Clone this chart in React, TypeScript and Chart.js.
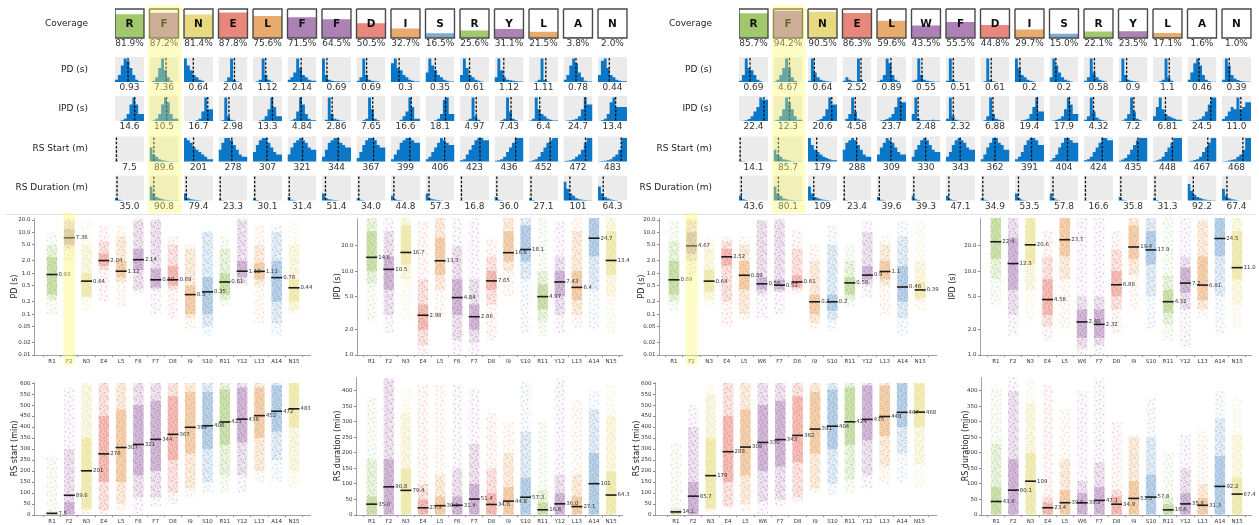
import React, { useEffect, useRef } from 'react';
import { Chart, registerables } from 'chart.js';

Chart.register(...registerables);

const FONT = '"DejaVu Sans", "Liberation Sans", sans-serif';
Chart.defaults.font.family = FONT;

// ---------- beacons ----------
const lettersA = ['R', 'F', 'N', 'E', 'L', 'F', 'F', 'D', 'I', 'S', 'R', 'Y', 'L', 'A', 'N'];
const lettersB = ['R', 'F', 'N', 'E', 'L', 'W', 'F', 'D', 'I', 'S', 'R', 'Y', 'L', 'A', 'N'];
const namesA = lettersA.map((l, i) => l + (i + 1));
const namesB = lettersB.map((l, i) => l + (i + 1));

const PALETTE: Record<string, string> = {
  R: '#a2c86e', F: '#ad80b6', W: '#ad80b6', Y: '#ad80b6',
  N: '#e6db80', E: '#e8877c', D: '#e8877c', L: '#e9aa6e', I: '#e9aa6e',
  S: '#80aad2', A: '#80aad2',
};

// ---------- coverage (%) ----------
const coverageA = [81.9, 87.2, 81.4, 87.8, 75.6, 71.5, 64.5, 50.5, 32.7, 16.5, 25.6, 31.1, 21.5, 3.8, 2.0];
const coverageB = [85.7, 94.2, 90.5, 86.3, 59.6, 43.5, 55.5, 44.8, 29.7, 15.0, 22.1, 23.5, 17.1, 1.6, 1.0];

// ---------- medians ----------
const pdLabA = ['0.93', '7.36', '0.64', '2.04', '1.12', '2.14', '0.69', '0.69', '0.3', '0.35', '0.61', '1.12', '1.11', '0.78', '0.44'];
const ipdLabA = ['14.6', '10.5', '16.7', '2.98', '13.3', '4.84', '2.86', '7.65', '16.6', '18.1', '4.97', '7.43', '6.4', '24.7', '13.4'];
const startLabA = ['7.5', '89.6', '201', '278', '307', '321', '344', '367', '399', '406', '423', '436', '452', '472', '483'];
const durLabA = ['35.0', '90.8', '79.4', '23.3', '30.1', '31.4', '51.4', '34.0', '44.8', '57.3', '16.8', '36.0', '27.1', '101', '64.3'];

const pdLabB = ['0.69', '4.67', '0.64', '2.52', '0.89', '0.55', '0.51', '0.61', '0.2', '0.2', '0.58', '0.9', '1.1', '0.46', '0.39'];
const ipdLabB = ['22.4', '12.3', '20.6', '4.58', '23.7', '2.48', '2.32', '6.88', '19.4', '17.9', '4.32', '7.2', '6.81', '24.5', '11.0'];
const startLabB = ['14.1', '85.7', '179', '288', '309', '330', '343', '362', '391', '404', '424', '435', '448', '467', '468'];
const durLabB = ['43.6', '80.1', '109', '23.4', '39.6', '39.3', '47.1', '34.9', '53.5', '57.8', '16.6', '35.8', '31.3', '92.2', '67.4'];

// ---------- small histograms (relative bin heights, 10 bins per cell) ----------
const pdHistA = [
  [0.3, 1, 3, 7, 10, 9, 6, 3, 1, 0.3], [0, 0, 0.5, 2, 6, 10, 5, 2, 0.5, 0], [2, 10, 7, 5, 3, 2, 1, 0.5, 0, 0],
  [0, 0, 0, 0.3, 2, 10, 1, 0.2, 0, 0], [0, 0, 0.3, 1, 10, 3, 1, 0.3, 0, 0], [0.3, 1, 2, 4, 10, 6, 3, 2, 1, 0.5],
  [1, 10, 3, 1, 0.5, 0.3, 0.3, 0.2, 0.2, 0.1], [0, 0.5, 2, 10, 3, 1, 0.5, 0.3, 0.2, 0], [2, 8, 10, 6, 5, 3, 2, 1, 0.5, 0.2],
  [1, 4, 10, 7, 5, 3, 2, 1, 0.5, 0.2], [0.5, 3, 10, 6, 3, 2, 1, 0.5, 0.2, 0], [0.5, 2, 10, 5, 2, 1, 0.7, 0.5, 0.3, 0.2],
  [0, 0, 0, 0.2, 1, 10, 1, 0.2, 0, 0], [0.3, 1, 3, 7, 10, 8, 4, 2, 0.5, 0.2], [0.5, 3, 9, 10, 6, 3, 2, 1, 0.5, 0.3],
];
const pdMarkA = [0.45, 0.57, 0.32, 0.55, 0.44, 0.47, 0.17, 0.35, 0.28, 0.34, 0.33, 0.32, 0.58, 0.43, 0.39];

const ipdHistA = [
  [0, 0, 0, 0.3, 1, 3, 7, 10, 7, 3], [0, 0, 0.2, 1, 3, 7, 10, 8, 3, 1], [0, 0, 0, 0, 0, 0.3, 1, 4, 10, 5],
  [0, 0, 0.3, 10, 2, 0.5, 0.2, 0, 0, 0], [0, 0, 0, 0.2, 0.5, 2, 5, 10, 6, 2], [0, 0, 0.2, 1, 4, 10, 7, 3, 1, 0.3],
  [0, 0, 0.5, 10, 3, 1, 0.5, 0.2, 0.1, 0], [0, 0, 0, 0.3, 1, 10, 5, 1, 0.3, 0], [0, 0, 0, 0, 0.5, 2, 4, 10, 6, 1],
  [0, 0, 0, 0, 0.3, 1, 3, 9, 10, 3], [0, 0, 0, 0.2, 1, 10, 2, 0.5, 0, 0], [0, 0, 0, 0.3, 1, 10, 4, 1, 0.3, 0],
  [0, 0.2, 1, 10, 5, 3, 2, 1, 0.5, 0.2], [0, 0, 0.2, 0.3, 0.5, 1, 2, 5, 10, 7], [0, 0, 0.3, 1, 3, 8, 10, 6, 6, 6],
];
const ipdMarkA = [0.68, 0.59, 0.82, 0.36, 0.67, 0.47, 0.35, 0.56, 0.7, 0.69, 0.56, 0.57, 0.37, 0.75, 0.61];

const startHistA = [
  [10, 0.3, 0, 0, 0, 0, 0, 0, 0, 0], [10, 6, 3, 2, 1, 0.5, 0.3, 0.2, 0.1, 0.1], [7, 10, 9, 8, 6, 5, 4, 3, 2, 1],
  [2, 5, 8, 10, 10, 9, 7, 5, 3, 2], [1, 4, 7, 9, 10, 10, 8, 6, 4, 3], [1, 3, 6, 8, 9, 10, 9, 8, 6, 5],
  [0.5, 2, 5, 8, 9, 10, 10, 8, 7, 6], [0.5, 1.5, 4, 7, 9, 10, 10, 9, 7, 6], [0.3, 1, 3, 5, 8, 9, 10, 10, 9, 8],
  [0.2, 1, 2, 4, 6, 8, 10, 9, 8, 7], [0.2, 0.5, 1, 3, 5, 7, 9, 10, 10, 9], [0, 0.3, 0.5, 1, 2, 4, 6, 8, 10, 10],
  [0, 0.2, 0.5, 1, 2, 4, 6, 8, 9, 10], [0, 0.2, 0.3, 0.5, 1, 2, 3, 5, 8, 10], [0, 0.1, 0.2, 0.3, 0.5, 1, 2, 3, 5, 10],
];
const startMarkA = [0.05, 0.15, 0.33, 0.46, 0.48, 0.52, 0.56, 0.59, 0.65, 0.66, 0.69, 0.73, 0.73, 0.76, 0.8];

const durHistA = [
  [10, 1, 0.3, 0.1, 0, 0, 0, 0, 0, 0], [10, 6, 3, 1.5, 1, 0.5, 0.3, 0.2, 0.1, 0.1], [10, 3, 1, 0.5, 0.3, 0.2, 0.1, 0, 0, 0],
  [10, 0.5, 0.1, 0, 0, 0, 0, 0, 0, 0], [10, 1, 0.2, 0, 0, 0, 0, 0, 0, 0], [10, 1.5, 0.3, 0.1, 0, 0, 0, 0, 0, 0],
  [10, 3, 1, 0.5, 0.3, 0.2, 0.1, 0, 0, 0], [10, 1, 0.3, 0.1, 0, 0, 0, 0, 0, 0], [10, 2, 0.5, 0.2, 0.1, 0, 0, 0, 0, 0],
  [10, 3, 1, 0.5, 0.3, 0.2, 0.1, 0, 0, 0], [10, 0.2, 0, 0, 0, 0, 0, 0, 0, 0], [10, 1.5, 0.3, 0.1, 0, 0, 0, 0, 0, 0],
  [10, 1, 0.2, 0, 0, 0, 0, 0, 0, 0], [10, 8, 5, 3, 2, 1, 0.5, 0.3, 0.2, 0.1], [10, 6, 3, 1.5, 0.8, 0.4, 0.2, 0.1, 0, 0],
];
const durMarkA = [0.07, 0.15, 0.08, 0.06, 0.06, 0.06, 0.12, 0.08, 0.1, 0.12, 0.05, 0.08, 0.07, 0.22, 0.18];

const pdHistB = [
  [0, 0.5, 3, 10, 6, 5, 3, 1, 0.3, 0], [0, 0.2, 1, 3, 6, 10, 6, 2, 0.5, 0], [0.2, 0.5, 10, 4, 2, 1, 0.5, 0.3, 0.2, 0],
  [0, 0.5, 2, 1, 0.5, 0.3, 10, 1, 0, 0], [0, 0.3, 1, 3, 10, 8, 3, 1, 0.3, 0], [0, 0.5, 1, 10, 3, 1, 0.5, 0.3, 0.2, 0.1],
  [0.2, 0.5, 10, 1, 0.3, 0.2, 0.1, 0, 0, 0], [0, 0, 0.3, 10, 1, 0.3, 0.1, 0, 0, 0], [3, 10, 6, 3, 2, 1, 0.5, 0.2, 0, 0],
  [1, 2, 10, 7, 4, 2, 1, 0.5, 0.2, 0], [0.3, 0.5, 2, 10, 4, 2, 1, 0.5, 0.2, 0], [0, 0.3, 10, 3, 1, 0.5, 0.3, 0.2, 0, 0],
  [0, 0, 0, 0.3, 1, 10, 2, 0.5, 0, 0], [0.3, 1, 4, 8, 10, 7, 3, 1, 0.3, 0.1], [0.5, 1, 10, 7, 3, 1.5, 0.8, 0.4, 0.2, 0.1],
];
const pdMarkB = [0.38, 0.55, 0.22, 0.64, 0.48, 0.36, 0.25, 0.37, 0.17, 0.22, 0.36, 0.28, 0.56, 0.4, 0.25];

const ipdHistB = [
  [0, 0, 0.1, 0.3, 0.8, 2, 4, 6, 10, 9], [0, 0.2, 0.5, 2, 5, 10, 8, 5, 2, 0.5], [0, 0, 0, 0, 0.3, 0.8, 2, 5, 10, 7],
  [0, 0, 1, 3, 10, 4, 1, 0.5, 0.2, 0], [0, 0, 0.2, 0.4, 0.8, 1.5, 3, 6, 10, 8], [0.5, 3, 10, 1, 0.3, 0.3, 0.3, 0.3, 0.5, 0.3],
  [0.3, 1, 10, 2, 0.5, 0.2, 0.1, 0.1, 0.1, 0], [0, 0, 0.3, 2, 10, 3, 1, 0.5, 0.2, 0], [0, 0, 0, 0.3, 0.5, 1, 3, 6, 10, 4],
  [0, 0, 0.2, 0.5, 1, 2, 5, 10, 7, 3], [0, 0.5, 2, 10, 4, 1.5, 0.6, 0.3, 0.1, 0], [0, 0, 0.2, 1, 3, 10, 4, 1, 0.3, 0],
  [0.5, 2, 6, 10, 5, 3, 2, 1.5, 1, 0.5], [0, 0, 0.2, 0.3, 0.5, 1, 2, 4, 7, 10], [0.3, 0.8, 2, 4, 6, 5, 10, 5, 6, 8],
];
const ipdMarkB = [0.86, 0.55, 0.82, 0.44, 0.82, 0.23, 0.25, 0.43, 0.77, 0.69, 0.33, 0.53, 0.43, 0.8, 0.65];

const startHistB = [
  [10, 0.3, 0.1, 0, 0, 0, 0, 0, 0, 0], [10, 5, 3, 2, 1, 0.7, 0.4, 0.2, 0.1, 0.1], [9, 10, 7, 5, 4, 3, 2, 1.5, 1, 0.5],
  [2, 5, 8, 9, 10, 9, 7, 5, 3, 2], [1, 3, 6, 8, 10, 9, 8, 6, 4, 3], [0.5, 2, 5, 7, 9, 10, 9, 7, 5, 4],
  [0.5, 2, 4, 7, 9, 10, 9, 8, 6, 5], [0.3, 1, 3, 6, 8, 10, 10, 8, 7, 5], [0.2, 1, 2, 4, 7, 9, 10, 10, 9, 7],
  [0.2, 0.5, 1.5, 3, 6, 8, 10, 10, 9, 8], [0.1, 0.5, 1, 2, 4, 6, 8, 10, 10, 9], [0.1, 0.3, 0.8, 1.5, 3, 5, 7, 9, 10, 10],
  [0.1, 0.2, 0.5, 1, 2, 4, 6, 8, 10, 10], [0, 0.1, 0.3, 0.6, 1, 2, 4, 6, 8, 10], [0, 0.1, 0.2, 0.4, 0.7, 1, 2, 3, 5, 10],
];
const startMarkB = [0.04, 0.17, 0.3, 0.49, 0.48, 0.49, 0.49, 0.5, 0.57, 0.62, 0.63, 0.67, 0.67, 0.7, 0.72];

const durHistB = [
  [10, 2, 0.5, 0.2, 0, 0, 0, 0, 0, 0], [10, 6, 3, 2, 1, 0.5, 0.3, 0.2, 0.1, 0.1], [10, 6, 3, 1.5, 1, 0.5, 0.3, 0.2, 0.1, 0],
  [10, 0.5, 0.1, 0, 0, 0, 0, 0, 0, 0], [10, 1.5, 0.3, 0.1, 0, 0, 0, 0, 0, 0], [10, 2, 0.5, 0.2, 0, 0, 0, 0, 0, 0],
  [10, 2, 0.5, 0.2, 0.1, 0, 0, 0, 0, 0], [10, 1, 0.3, 0.1, 0, 0, 0, 0, 0, 0], [10, 3, 1, 0.3, 0.1, 0, 0, 0, 0, 0],
  [10, 3, 1, 0.3, 0.1, 0, 0, 0, 0, 0], [10, 0.2, 0, 0, 0, 0, 0, 0, 0, 0], [10, 1.5, 0.3, 0.1, 0, 0, 0, 0, 0, 0],
  [10, 1, 0.2, 0, 0, 0, 0, 0, 0, 0], [10, 7, 4, 2.5, 1.5, 1, 0.5, 0.3, 0.2, 0.1], [10, 5, 2, 1, 0.5, 0.3, 0.1, 0, 0, 0],
];
const durMarkB = [0.08, 0.17, 0.2, 0.06, 0.08, 0.08, 0.1, 0.08, 0.12, 0.12, 0.05, 0.08, 0.07, 0.2, 0.17];

// ---------- strip extents: [low, high] for sparse range, dense band and core ----------
const pdRangeA = [[0.1, 10], [2, 22], [0.12, 20], [0.2, 15], [0.15, 15], [0.3, 22], [0.1, 22], [0.08, 8], [0.04, 5], [0.03, 12], [0.15, 8], [0.5, 22], [0.06, 15], [0.03, 15], [0.1, 20]];
const pdDenseA = [[0.22, 5], [4, 20], [0.25, 5], [1.2, 6], [0.6, 8], [0.4, 20], [0.4, 20], [0.4, 5], [0.08, 4], [0.05, 10], [0.22, 4], [0.55, 20], [0.5, 5], [0.06, 10], [0.12, 5]];
const pdCoreA = [[0.3, 2.5], [5, 12], [0.27, 1], [1.5, 3], [0.8, 2], [1.2, 4], [0.45, 1.3], [0.5, 1.5], [0.1, 0.5], [0.1, 0.8], [0.3, 1], [0.8, 2], [0.7, 1.8], [0.2, 2], [0.2, 0.7]];

const ipdRangeA = [[2.5, 43], [1.8, 43], [2.5, 43], [1, 40], [3, 43], [1, 43], [1, 43], [1.5, 25], [5, 43], [1.8, 43], [1.7, 43], [1.8, 40], [2, 43], [2, 43], [1.8, 43]];
const ipdDenseA = [[7, 43], [3, 30], [8, 43], [1.3, 8], [6, 43], [1.5, 20], [1.4, 8], [4, 15], [10, 43], [8, 43], [2.5, 10], [3, 15], [3, 30], [6, 43], [5, 43]];
const ipdCoreA = [[10, 30], [6, 15], [12, 35], [2, 4], [9, 25], [3, 8], [2, 4], [6, 10], [13, 30], [13, 35], [3.5, 7], [5, 10], [4.5, 10], [15, 43], [9, 30]];

const startRangeA = [[0, 270], [0, 580], [0, 590], [0, 600], [20, 600], [0, 600], [40, 600], [50, 600], [80, 600], [100, 600], [100, 600], [100, 600], [150, 600], [150, 600], [120, 600]];
const startDenseA = [[0, 20], [0, 300], [10, 600], [20, 600], [50, 600], [80, 600], [80, 600], [100, 600], [120, 600], [150, 600], [180, 600], [180, 600], [200, 600], [250, 600], [200, 600]];
const startCoreA = [[0, 10], [0, 60], [30, 350], [150, 450], [150, 480], [180, 500], [200, 520], [250, 540], [280, 560], [300, 560], [320, 570], [330, 580], [350, 580], [380, 590], [400, 600]];

const durRangeA = [[0, 380], [0, 440], [0, 410], [0, 420], [0, 420], [0, 420], [0, 410], [0, 330], [0, 300], [0, 430], [0, 300], [0, 440], [0, 370], [0, 400], [0, 420]];
const durDenseA = [[0, 180], [0, 440], [0, 330], [0, 100], [0, 130], [0, 150], [0, 230], [0, 150], [0, 200], [0, 270], [0, 80], [0, 130], [0, 130], [0, 340], [0, 320]];
const durCoreA = [[0, 60], [0, 180], [0, 150], [0, 50], [0, 60], [0, 60], [0, 100], [0, 70], [0, 90], [0, 120], [0, 40], [0, 70], [0, 60], [0, 200], [0, 140]];

const pdRangeB = [[0.12, 20], [0.9, 22], [0.15, 8], [0.05, 8], [0.07, 8], [0.08, 20], [0.1, 22], [0.3, 12], [0.04, 5], [0.04, 15], [0.15, 5], [0.25, 20], [0.09, 8], [0.03, 20], [0.12, 20]];
const pdDenseB = [[0.2, 6], [2, 20], [0.22, 4], [0.2, 6], [0.1, 5], [0.3, 20], [0.35, 20], [0.4, 4], [0.06, 2], [0.07, 5], [0.22, 2], [0.5, 10], [0.5, 5], [0.08, 8], [0.2, 2]];
const pdCoreB = [[0.3, 2], [3, 10], [0.35, 1.2], [1.5, 4], [0.4, 2], [0.4, 0.8], [0.4, 0.7], [0.45, 0.9], [0.1, 0.3], [0.12, 0.3], [0.3, 0.8], [0.7, 1.5], [0.7, 2], [0.2, 1.5], [0.25, 0.6]];

const ipdRangeB = [[4, 43], [1.7, 43], [2.5, 43], [1.5, 30], [2, 43], [1, 43], [1, 43], [1.8, 30], [3.5, 43], [2, 43], [1.5, 43], [1.2, 43], [2.8, 43], [1.8, 43], [2, 43]];
const ipdDenseB = [[8, 43], [3, 43], [6, 43], [2.2, 15], [8, 43], [1.2, 5], [1.3, 5], [3.5, 18], [9, 43], [5, 43], [2.3, 9], [3.5, 15], [3.5, 40], [5, 43], [4, 43]];
const ipdCoreB = [[14, 43], [6, 25], [12, 43], [3, 8], [15, 43], [1.6, 3.5], [1.6, 3.5], [5, 10], [14, 35], [12, 30], [3.2, 6], [5.5, 11], [4.5, 15], [15, 43], [8, 30]];

const startRangeB = [[0, 330], [0, 500], [10, 590], [30, 600], [20, 600], [0, 600], [40, 600], [60, 600], [100, 600], [90, 600], [100, 600], [120, 600], [140, 600], [150, 600], [120, 600]];
const startDenseB = [[0, 30], [0, 400], [20, 550], [40, 600], [50, 600], [60, 600], [70, 600], [80, 600], [120, 600], [140, 600], [160, 600], [180, 600], [220, 600], [280, 600], [230, 600]];
const startCoreB = [[0, 20], [0, 150], [30, 350], [150, 450], [180, 480], [200, 500], [220, 520], [240, 540], [280, 560], [300, 570], [320, 580], [340, 590], [360, 590], [400, 600], [400, 600]];

const durRangeB = [[0, 410], [0, 445], [0, 440], [0, 420], [0, 340], [0, 400], [0, 440], [0, 300], [0, 260], [0, 380], [0, 200], [0, 260], [0, 270], [0, 400], [0, 380]];
const durDenseB = [[0, 230], [0, 400], [0, 360], [0, 60], [0, 180], [0, 110], [0, 170], [0, 80], [0, 250], [0, 250], [0, 60], [0, 150], [0, 100], [0, 310], [0, 260]];
const durCoreB = [[0, 90], [0, 180], [0, 200], [0, 40], [0, 80], [0, 70], [0, 90], [0, 60], [0, 110], [0, 130], [0, 35], [0, 70], [0, 55], [0, 190], [0, 120]];

// ---------- axis ticks ----------
const PD_TICKS = [0.01, 0.02, 0.05, 0.1, 0.2, 0.5, 1, 2, 5, 10, 20];
const IPD_TICKS = [1, 2, 5, 10, 20];
const START_TICKS = [0, 50, 100, 150, 200, 250, 300, 350, 400, 450, 500, 550, 600];
const DUR_TICKS = [0, 50, 100, 150, 200, 250, 300, 350, 400];

// ---------- styling ----------
const HIST_BLUE = '#0b77c9';
const CELL_GREY = '#ebebeb';
const HIGHLIGHT = 'rgba(255, 250, 105, 0.38)';
const ROW_LABELS = ['Coverage', 'PD (s)', 'IPD (s)', 'RS Start (m)', 'RS Duration (m)'];

// grid layout (vertical units = pixels from the top of the grid canvas)
const CELL = 0.84;
const BOX_TOP = 9;
const BOX_BOTTOM = 38;
const COV_TEXT_Y = 43.3;
const ROW_BASES = [82, 121, 161.5, 200.5];
const HIST_H = 25;
const ROW_LABEL_Y = [24, 69.5, 109, 148.5, 188];

// speckle texture tile used to give the strip bands a scattered-dot look
const SPECKLE_TILE = 9;
const SPECKLE_DOTS = [
  [1.2, 1.0], [5.6, 2.4], [2.4, 5.8], [7.3, 7.1], [3.9, 3.3], [8.1, 0.6], [0.3, 7.9], [6.0, 5.2], [4.6, 8.3], [2.0, 3.9], [7.8, 4.0], [5.0, 0.2],
];

function rgba(hex: string, a: number) {
  const n = parseInt(hex.slice(1), 16);
  return `rgba(${n >> 16}, ${(n >> 8) & 255}, ${n & 255}, ${a})`;
}

function speckle(hex: string, baseAlpha: number, dots: number, dotAlpha: number): CanvasPattern | string {
  const c = document.createElement('canvas');
  c.width = SPECKLE_TILE;
  c.height = SPECKLE_TILE;
  const g = c.getContext('2d');
  if (!g) return rgba(hex, baseAlpha);
  g.fillStyle = rgba(hex, baseAlpha);
  g.fillRect(0, 0, SPECKLE_TILE, SPECKLE_TILE);
  g.fillStyle = rgba(hex, dotAlpha);
  SPECKLE_DOTS.slice(0, dots).forEach(([dx, dy]) => {
    g.beginPath();
    g.arc(dx, dy, 0.75, 0, Math.PI * 2);
    g.fill();
  });
  const pat = g.createPattern(c, 'repeat');
  return pat || rgba(hex, baseAlpha);
}

interface GridRow { hist: number[][]; mark: number[]; text: string[] }
interface GridPanel { letters: string[]; coverage: number[]; rows: GridRow[]; highlight: number; width: number }

const panelA: GridPanel = {
  letters: lettersA, coverage: coverageA, highlight: 1, width: 634,
  rows: [
    { hist: pdHistA, mark: pdMarkA, text: pdLabA },
    { hist: ipdHistA, mark: ipdMarkA, text: ipdLabA },
    { hist: startHistA, mark: startMarkA, text: startLabA },
    { hist: durHistA, mark: durMarkA, text: durLabA },
  ],
};
const panelB: GridPanel = {
  letters: lettersB, coverage: coverageB, highlight: 1, width: 634,
  rows: [
    { hist: pdHistB, mark: pdMarkB, text: pdLabB },
    { hist: ipdHistB, mark: ipdMarkB, text: ipdLabB },
    { hist: startHistB, mark: startMarkB, text: startLabB },
    { hist: durHistB, mark: durMarkB, text: durLabB },
  ],
};

const NONE = 'rgba(0,0,0,0)';

function gridConfig(p: GridPanel): any {
  const ds: any[] = [];
  p.letters.forEach((ltr, i) => {
    const level = BOX_BOTTOM - (BOX_BOTTOM - BOX_TOP) * p.coverage[i] / 100;
    ds.push({
      data: [{ x: i, y: level }, { x: i + CELL, y: level }],
      fill: { value: BOX_BOTTOM }, backgroundColor: PALETTE[ltr], borderColor: NONE, borderWidth: 0, order: 6,
    });
    ds.push({
      data: [{ x: i, y: BOX_TOP }, { x: i + CELL, y: BOX_TOP }, { x: i + CELL, y: BOX_BOTTOM }, { x: i, y: BOX_BOTTOM }, { x: i, y: BOX_TOP }],
      fill: false, borderColor: '#4a4a4a', borderWidth: 1.4, order: 5,
    });
  });
  p.rows.forEach((row, r) => {
    const base = ROW_BASES[r];
    const top = base - HIST_H;
    row.hist.forEach((bins, i) => {
      ds.push({
        data: [{ x: i, y: top }, { x: i + CELL, y: top }],
        fill: { value: base }, backgroundColor: CELL_GREY, borderColor: NONE, borderWidth: 0, order: 9,
      });
      const w = CELL / bins.length;
      const pts = bins.map((h, k) => ({ x: i + k * w, y: base - (h / 10) * (HIST_H - 1.5) }));
      pts.push({ x: i + CELL, y: pts[pts.length - 1].y });
      ds.push({
        data: pts, stepped: 'after', fill: { value: base },
        backgroundColor: HIST_BLUE, borderColor: NONE, borderWidth: 0, order: 8,
      });
      const mx = i + CELL * row.mark[i];
      ds.push({
        data: [{ x: mx, y: top + 1 }, { x: mx, y: base }],
        fill: false, borderColor: '#111', borderWidth: 1.3, borderDash: [2.6, 1.6], order: 4,
      });
    });
  });

  const labels = {
    id: 'gridLabels',
    afterDatasetsDraw(chart: any) {
      const { ctx, chartArea } = chart;
      const x = chart.scales.x;
      const y = chart.scales.y;
      ctx.save();
      ctx.textBaseline = 'middle';
      ctx.fillStyle = '#222';
      ctx.font = `9px ${FONT}`;
      ctx.textAlign = 'right';
      ROW_LABELS.forEach((t, r) => ctx.fillText(t, chartArea.left - 27, y.getPixelForValue(ROW_LABEL_Y[r])));
      ctx.textAlign = 'center';
      ctx.font = `bold 10.5px ${FONT}`;
      ctx.fillStyle = '#111';
      p.letters.forEach((l, i) =>
        ctx.fillText(l, x.getPixelForValue(i + CELL / 2), y.getPixelForValue((BOX_TOP + BOX_BOTTOM) / 2 + 0.5)));
      ctx.font = `9px ${FONT}`;
      ctx.fillStyle = '#333';
      p.coverage.forEach((c, i) =>
        ctx.fillText(c.toFixed(1) + '%', x.getPixelForValue(i + CELL / 2), y.getPixelForValue(COV_TEXT_Y)));
      p.rows.forEach((row, r) =>
        row.text.forEach((t, i) =>
          ctx.fillText(t, x.getPixelForValue(i + CELL / 2), y.getPixelForValue(ROW_BASES[r] + 5.8))));
      // highlighted beacon column
      const h = p.highlight;
      const x0 = x.getPixelForValue(h - 0.05);
      const x1 = x.getPixelForValue(h + CELL + 0.09);
      const y0 = y.getPixelForValue(5);
      const y1 = y.getPixelForValue(213);
      ctx.fillStyle = HIGHLIGHT;
      ctx.fillRect(x0, y0, x1 - x0, y1 - y0);
      ctx.restore();
    },
  };

  return {
    type: 'line',
    data: { datasets: ds },
    options: {
      responsive: false, animation: false, devicePixelRatio: 1, events: [],
      layout: { padding: { left: 115, right: p.width - 115 - 15 * 34.5, top: 0, bottom: 0 } },
      elements: { point: { radius: 0, hitRadius: 0, hoverRadius: 0 }, line: { tension: 0 } },
      plugins: { legend: { display: false }, tooltip: { enabled: false } },
      scales: {
        x: { type: 'linear', min: 0, max: 15, display: false },
        y: { type: 'linear', min: 0, max: 214, reverse: true, display: false },
      },
    },
    plugins: [labels],
  };
}

// ---------- strip plots ----------
interface Strip {
  letters: string[]; names: string[]; labels: string[];
  range: number[][]; dense: number[][]; core: number[][];
  log: boolean; min: number; max: number; ticks: number[]; fmt: (v: number) => string;
  title: string; canvas: number[]; area: number[]; xr: number[]; titleX: number; highlight?: number;
}

const fmtPD = (v: number) => (v >= 1 ? v.toFixed(1) : String(v));
const fmtIPD = (v: number) => v.toFixed(1);
const fmtInt = (v: number) => String(v);

function stripConfig(s: Strip): any {
  const [cx, cy, cw, ch] = s.canvas;
  const [al, at, ar, ab] = s.area;
  const colors = s.letters.map((l) => PALETTE[l]);
  const medians = s.labels.map(Number);
  const layer = (pairs: number[][], fills: (CanvasPattern | string)[], order: number) => ({
    type: 'bar', order, grouped: false, barPercentage: 0.6, categoryPercentage: 1,
    data: pairs.map((p, i) => ({ x: i, y: p })),
    backgroundColor: fills, borderWidth: 0,
  });
  const TITLE_SIZE = 8;

  const decorations = {
    id: 'stripDecor',
    afterDatasetsDraw(chart: any) {
      const { ctx } = chart;
      const x = chart.scales.x;
      const y = chart.scales.y;
      ctx.save();
      ctx.font = `5.4px ${FONT}`;
      ctx.fillStyle = '#333';
      ctx.textAlign = 'left';
      ctx.textBaseline = 'middle';
      medians.forEach((m, i) => ctx.fillText(s.labels[i], x.getPixelForValue(i) + 6.5, y.getPixelForValue(m)));
      ctx.restore();
    },
    afterDraw(chart: any) {
      if (s.highlight === undefined) return;
      const { ctx, chartArea } = chart;
      const x = chart.scales.x;
      const x0 = x.getPixelForValue(s.highlight - 0.34);
      const x1 = x.getPixelForValue(s.highlight + 0.34);
      ctx.save();
      ctx.fillStyle = HIGHLIGHT;
      ctx.fillRect(x0, chartArea.top - 5, x1 - x0, chartArea.bottom - chartArea.top + 15);
      ctx.restore();
    },
  };

  return {
    type: 'bar',
    data: {
      datasets: [
        layer(s.range, colors.map((c) => speckle(c, 0.05, 4, 0.5)), 4),
        layer(s.dense, colors.map((c) => speckle(c, 0.15, 9, 0.45)), 3),
        layer(s.core, colors.map((c) => speckle(c, 0.4, 12, 0.4)), 2),
        {
          type: 'line', order: 1, showLine: false,
          data: medians.map((m, i) => ({ x: i, y: m })),
          pointStyle: 'line', pointRadius: 5.5, pointHoverRadius: 5.5, pointBorderWidth: 1.6,
          pointBorderColor: '#1a1a1a', pointBackgroundColor: '#1a1a1a',
        },
      ],
    },
    options: {
      responsive: false, animation: false, devicePixelRatio: 1, events: [],
      layout: { padding: { left: 0, top: at - cy, right: cx + cw - ar, bottom: 0 } },
      plugins: { legend: { display: false }, tooltip: { enabled: false } },
      scales: {
        x: {
          type: 'linear', min: s.xr[0], max: s.xr[1], offset: false,
          afterBuildTicks: (sc: any) => { sc.ticks = s.names.map((_, i) => ({ value: i })); },
          afterFit: (sc: any) => { sc.height = cy + ch - ab; },
          ticks: {
            callback: (v: number) => s.names[v], font: { size: 5.5 }, color: '#333',
            padding: 1, autoSkip: false, maxRotation: 0,
          },
          grid: { display: true, drawOnChartArea: false, tickLength: 2, color: '#888' },
          border: { color: '#8a8a8a', width: 0.8 },
        },
        y: {
          type: s.log ? 'logarithmic' : 'linear', min: s.min, max: s.max,
          afterBuildTicks: (sc: any) => { sc.ticks = s.ticks.map((v) => ({ value: v })); },
          afterFit: (sc: any) => { sc.width = al - cx; },
          ticks: { callback: (v: number) => s.fmt(v), font: { size: 5.5 }, color: '#333', padding: 1.5 },
          grid: { display: true, drawOnChartArea: false, tickLength: 2, color: '#888' },
          border: { color: '#8a8a8a', width: 0.8 },
          title: {
            display: true, text: s.title, color: '#222', font: { size: TITLE_SIZE },
            padding: { top: s.titleX - cx - (TITLE_SIZE * 1.2) / 2, bottom: 0 },
          },
        },
      },
    },
    plugins: [decorations],
  };
}

const strips: Strip[] = [
  {
    letters: lettersA, names: namesA, labels: pdLabA, range: pdRangeA, dense: pdDenseA, core: pdCoreA,
    log: true, min: 0.01, max: 22.4, ticks: PD_TICKS, fmt: fmtPD, title: 'PD (s)',
    canvas: [0, 208, 318, 162], area: [34, 218, 312, 355], xr: [-1.04, 14.98], titleX: 15, highlight: 1,
  },
  {
    letters: lettersA, names: namesA, labels: ipdLabA, range: ipdRangeA, dense: ipdDenseA, core: ipdCoreA,
    log: true, min: 1, max: 43, ticks: IPD_TICKS, fmt: fmtIPD, title: 'IPD (s)',
    canvas: [318, 208, 312, 162], area: [357, 218, 627, 355], xr: [-0.86, 14.69], titleX: 338,
  },
  {
    letters: lettersA, names: namesA, labels: startLabA, range: startRangeA, dense: startDenseA, core: startCoreA,
    log: false, min: 0, max: 605, ticks: START_TICKS, fmt: fmtInt, title: 'RS start (min)',
    canvas: [0, 372, 318, 153], area: [34, 382, 312, 515], xr: [-1.04, 14.98], titleX: 15,
  },
  {
    letters: lettersA, names: namesA, labels: durLabA, range: durRangeA, dense: durDenseA, core: durCoreA,
    log: false, min: 0, max: 445, ticks: DUR_TICKS, fmt: fmtInt, title: 'RS duration (min)',
    canvas: [318, 367, 312, 158], area: [356, 377, 627, 515], xr: [-0.92, 14.69], titleX: 338,
  },
  {
    letters: lettersB, names: namesB, labels: pdLabB, range: pdRangeB, dense: pdDenseB, core: pdCoreB,
    log: true, min: 0.01, max: 22.4, ticks: PD_TICKS, fmt: fmtPD, title: 'PD (s)',
    canvas: [630, 208, 315, 162], area: [659, 218, 936, 355], xr: [-0.85, 14.9], titleX: 642, highlight: 1,
  },
  {
    letters: lettersB, names: namesB, labels: ipdLabB, range: ipdRangeB, dense: ipdDenseB, core: ipdCoreB,
    log: true, min: 1, max: 43, ticks: IPD_TICKS, fmt: fmtIPD, title: 'IPD (s)',
    canvas: [945, 208, 314, 162], area: [980, 218, 1255, 355], xr: [-0.92, 14.86], titleX: 953,
  },
  {
    letters: lettersB, names: namesB, labels: startLabB, range: startRangeB, dense: startDenseB, core: startCoreB,
    log: false, min: 0, max: 605, ticks: START_TICKS, fmt: fmtInt, title: 'RS start (min)',
    canvas: [630, 372, 315, 153], area: [655, 382, 936, 515], xr: [-1.2, 14.95], titleX: 637,
  },
  {
    letters: lettersB, names: namesB, labels: durLabB, range: durRangeB, dense: durDenseB, core: durCoreB,
    log: false, min: 0, max: 445, ticks: DUR_TICKS, fmt: fmtInt, title: 'RS duration (min)',
    canvas: [945, 367, 314, 158], area: [981, 377, 1255, 515], xr: [-0.88, 14.86], titleX: 966,
  },
];

function ChartCanvas({ left, top, width, height, make }: { left: number; top: number; width: number; height: number; make: () => any }) {
  const ref = useRef<HTMLCanvasElement>(null);
  useEffect(() => {
    const chart = new Chart(ref.current as HTMLCanvasElement, make());
    return () => chart.destroy();
  }, []);
  return (
    <canvas
      ref={ref}
      width={width}
      height={height}
      style={{ position: 'absolute', left, top, width, height, display: 'block' }}
    />
  );
}

export default function App() {
  return (
    <div style={{ position: 'fixed', left: 0, top: 0, width: 1259, height: 525, background: '#fff', overflow: 'hidden' }}>
      <div style={{ position: 'absolute', left: 5, top: 214, width: 1250, height: 0, borderTop: '1.5px solid #e3e3e3' }} />
      <ChartCanvas left={0} top={0} width={634} height={214} make={() => gridConfig(panelA)} />
      <ChartCanvas left={624} top={0} width={634} height={214} make={() => gridConfig(panelB)} />
      {strips.map((s, k) => (
        <ChartCanvas key={k} left={s.canvas[0]} top={s.canvas[1]} width={s.canvas[2]} height={s.canvas[3]} make={() => stripConfig(s)} />
      ))}
    </div>
  );
}
